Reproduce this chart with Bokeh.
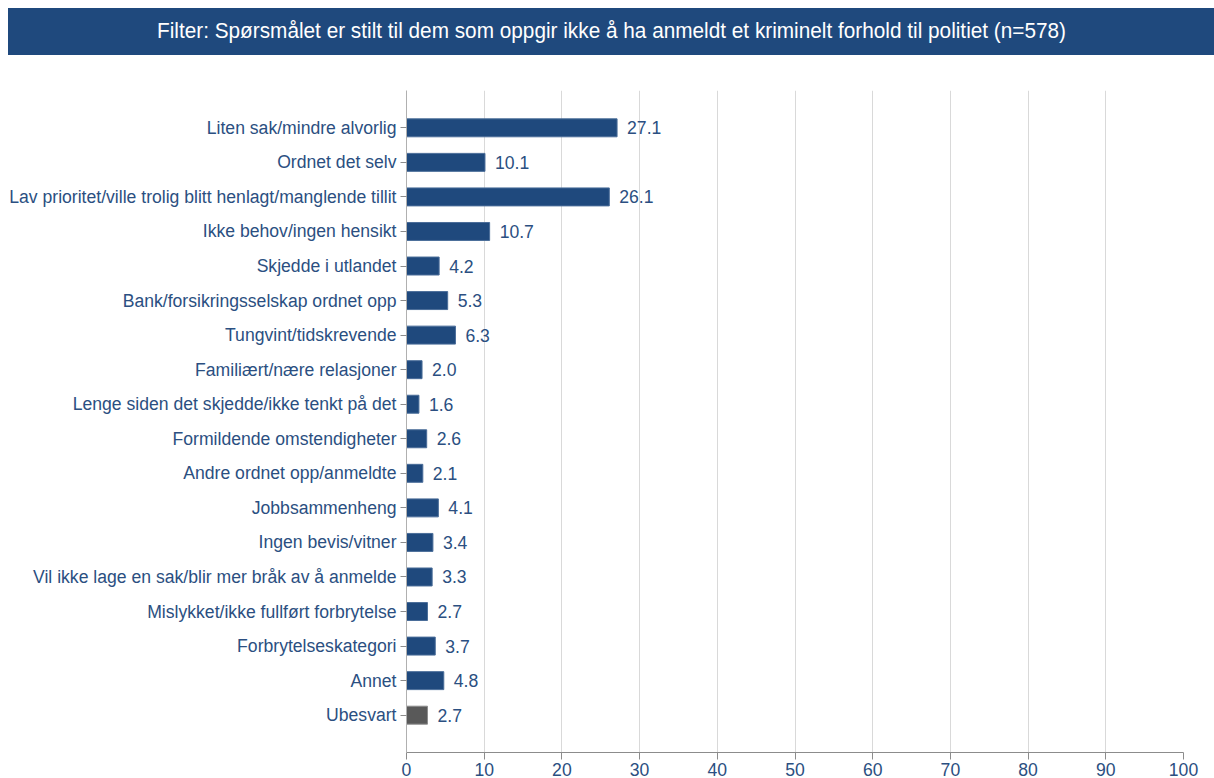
from bokeh.plotting import figure
from bokeh.models import ColumnDataSource, FactorRange, Div
from bokeh.layouts import column
from bokeh.core.properties import value
from bokeh.embed import file_html
from bokeh.resources import INLINE

title_text = "Filter: Spørsmålet er stilt til dem som oppgir ikke å ha anmeldt et kriminelt forhold til politiet (n=578)"

categories = [
    "Liten sak/mindre alvorlig",
    "Ordnet det selv",
    "Lav prioritet/ville trolig blitt henlagt/manglende tillit",
    "Ikke behov/ingen hensikt",
    "Skjedde i utlandet",
    "Bank/forsikringsselskap ordnet opp",
    "Tungvint/tidskrevende",
    "Familiært/nære relasjoner",
    "Lenge siden det skjedde/ikke tenkt på det",
    "Formildende omstendigheter",
    "Andre ordnet opp/anmeldte",
    "Jobbsammenheng",
    "Ingen bevis/vitner",
    "Vil ikke lage en sak/blir mer bråk av å anmelde",
    "Mislykket/ikke fullført forbrytelse",
    "Forbrytelseskategori",
    "Annet",
    "Ubesvart",
]
values = [27.1, 10.1, 26.1, 10.7, 4.2, 5.3, 6.3, 2.0, 1.6, 2.6, 2.1, 4.1, 3.4, 3.3, 2.7, 3.7, 4.8, 2.7]
x_ticks = [0, 10, 20, 30, 40, 50, 60, 70, 80, 90, 100]

BLUE = "#1f497d"
GRAY = "#595959"
TEXT = "#2b4f81"

colors = [GRAY if c == "Ubesvart" else BLUE for c in categories]
borders = ["#8c8c8c" if c == "Ubesvart" else "#4a6d99" for c in categories]

src = ColumnDataSource(dict(
    cat=categories,
    val=values,
    color=colors,
    border=borders,
    lab=["%.1f" % v for v in values],
))

HW = 1206

header = Div(
    text=('<span style="display:inline-block;transform:scaleX(0.966);transform-origin:center;'
          'white-space:nowrap;">' + title_text + '</span>'),
    width=HW, height=47, margin=(8, 0, 0, 8),
    styles={
        "background-color": BLUE,
        "color": "white",
        "font-family": "'Liberation Sans', Arial, sans-serif",
        "font-size": "21.5px",
        "text-align": "center",
        "line-height": "47px",
        "width": "%dpx" % HW,
        "height": "47px",
        "overflow": "hidden",
        "white-space": "nowrap",
    },
)

FONT_SIZE = "17.6px"

p = figure(
    width=1214, height=723,
    y_range=FactorRange(factors=list(reversed(categories)), range_padding=0.58, range_padding_units="absolute"),
    x_range=(0, 100),
    output_backend="svg", toolbar_location=None,
    min_border_top=35, min_border_right=31, min_border_bottom=0, min_border_left=406,
    margin=(0, 0, 0, 0),
)
p.outline_line_color = None
p.background_fill_color = "white"

p.hbar(y="cat", right="val", left=0, height=0.52, source=src,
       fill_color="color", line_color="border", line_width=1)

p.text(x="val", y="cat", text="lab", source=src, x_offset=10,
       text_font=value("Liberation Sans"), text_font_size=FONT_SIZE,
       text_color=TEXT, text_baseline="middle", text_align="left")

p.xaxis.ticker = x_ticks
p.xaxis.axis_line_color = "#8c8c8c"
p.xaxis.major_tick_line_color = "#8c8c8c"
p.xaxis.major_tick_out = 7
p.xaxis.major_tick_in = 0
p.xaxis.minor_tick_line_color = None
p.xaxis.major_label_text_font = "Liberation Sans"
p.xaxis.major_label_text_font_size = FONT_SIZE
p.xaxis.major_label_text_color = TEXT
p.xaxis.major_label_standoff = 3

p.yaxis.axis_line_color = "#b0b0b0"
p.yaxis.major_tick_line_color = "#8c8c8c"
p.yaxis.major_tick_out = 6
p.yaxis.major_tick_in = 0
p.yaxis.minor_tick_line_color = None
p.yaxis.major_label_text_font = "Liberation Sans"
p.yaxis.major_label_text_font_size = FONT_SIZE
p.yaxis.major_label_text_color = TEXT
p.yaxis.major_label_standoff = 4

p.xgrid.grid_line_color = "#d9d9d9"
p.xgrid.ticker = x_ticks
p.ygrid.grid_line_color = None

layout = column(header, p, spacing=0, margin=(0, 0, 0, 0))

open("out.html", "w").write(file_html(layout, INLINE))
